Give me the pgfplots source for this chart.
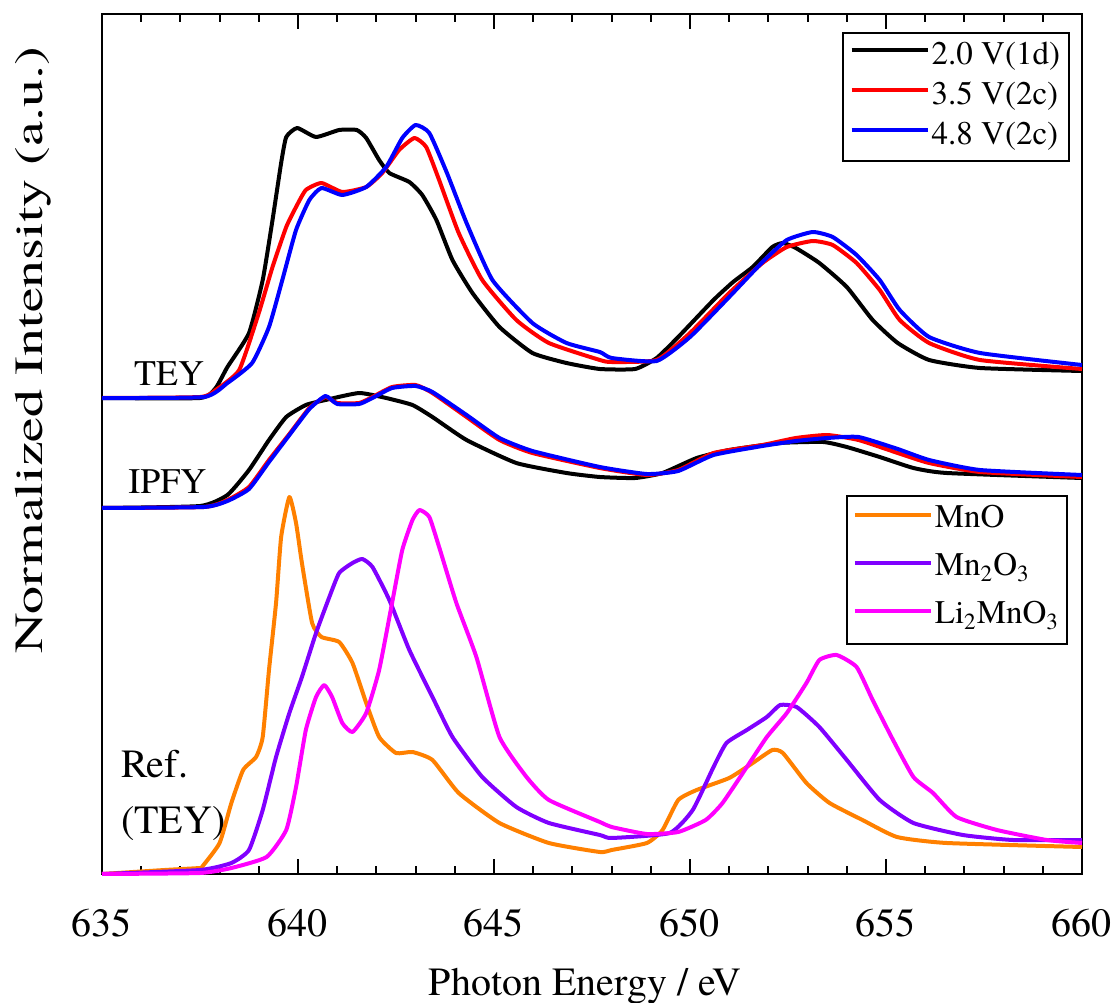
\documentclass[border=0pt]{standalone}
\usepackage{fontspec}
\setmainfont{texgyretermes}[Extension=.otf, UprightFont=*-regular, BoldFont=*-bold, ItalicFont=*-italic, BoldItalicFont=*-bolditalic]
\newfontfamily\ylabfont{texgyretermes}[Extension=.otf, UprightFont=*-regular, FakeStretch=1.4]
\usepackage{pgfplots}
\pgfplotsset{compat=1.18}

\definecolor{mnoorange}{RGB}{255,128,0}
\definecolor{mnviolet}{RGB}{128,0,255}
\definecolor{limagenta}{RGB}{255,0,255}

\newcommand{\bigfont}{\fontsize{20}{24}\selectfont}
\newcommand{\legfont}{\fontsize{16.5}{19}\selectfont}

\pgfplotsset{
  spectra/.style={
    scale only axis, width=490pt, height=430pt,
    at={(0pt,0pt)}, anchor=south west,
    xmin=635, xmax=660, ymin=0, ymax=860,
    clip=false,
  },
  spec/.style={line width=2pt, line join=round, smooth, tension=0.3},
  leg/.style={
    legend cell align=left,
    legend image code/.code={\draw[##1, sharp plot] (0pt,3.5pt) -- (38pt,3.5pt);},
  },
}

\begin{document}
\begin{tikzpicture}
% measured spectra: TEY (upper) and IPFY (middle)
\begin{axis}[spectra, leg,
  axis line style={line width=1pt},
  xtick={635,640,...,660}, minor x tick num=4,
  major tick length=7.5pt, minor tick length=4pt,
  every tick/.style={black, line width=1pt},
  ytick=\empty,
  /pgf/number format/assume math mode=true,
  xticklabel style={font=\bigfont, anchor=base, yshift=-31pt},
  xlabel={Photon Energy / eV},
  xlabel style={font=\bigfont, at={(axis description cs:0.493,-0.1407)}, anchor=base},
  ylabel={Normalized Intensity (a.u.)},
  ylabel style={font=\ylabfont\fontsize{20}{24}\selectfont, at={(axis description cs:-0.0704,0.609)}, anchor=center},
  legend style={at={(rel axis cs:0.9878,0.979)}, anchor=north east,
    draw=black, line width=1pt, font=\legfont, inner sep=3.5pt,
    row sep=3pt,
    nodes={inner sep=1pt, text height=11pt, text depth=4pt}},
]
\addplot[spec, black] coordinates {
(635,476) (637.5,476) (637.9,486) (638.2,507) (638.75,541) (639.1,594)
(639.35,654) (639.57,711) (639.7,737) (639.98,746) (640.46,737) (641.05,744)
(641.5,744) (641.74,736) (642.07,714) (642.33,701) (642.84,692) (643.17,679)
(643.53,654) (643.94,614) (644.45,581) (645.14,547) (645.98,521) (646.85,511)
(647.7,505) (648.6,505) (649.15,516) (649.7,537) (650.6,574) (651.1,592)
(651.6,607) (652.1,627) (652.37,631) (652.7,626) (653.3,611) (654.0,587)
(654.66,554) (655.3,531) (656.1,514) (657.4,506) (660,503)};
\addlegendentry{2.0 V(1d)}
\addplot[spec, red] coordinates {
(635,476) (637.5,477) (637.9,484) (638.5,504) (639.0,561) (639.35,607)
(639.7,647) (639.95,667) (640.2,684) (640.6,691) (641.13,682) (641.74,687)
(642.15,701) (642.58,724) (642.97,736) (643.27,727) (643.6,694) (644.1,641)
(644.7,594) (645.57,554) (646.4,531) (647.7,514) (648.0,512) (649.15,514)
(650.0,541) (651.0,581) (651.85,611) (652.47,627) (653.13,633) (653.64,629)
(654.25,611) (654.84,584) (655.35,554) (656.1,531) (657.4,514) (660,505)};
\addlegendentry{3.5 V(2c)}
\addplot[spec, blue] coordinates {
(635,476) (637.6,477) (638.2,491) (638.83,511) (639.26,547) (639.6,594)
(639.95,644) (640.29,674) (640.6,686) (641.13,679) (641.74,687) (642.25,707)
(642.66,736) (643.0,749) (643.35,741) (643.8,701) (644.3,651) (644.96,594)
(645.98,551) (646.85,531) (647.7,522) (648.0,516) (649.15,513) (650.0,537)
(651.0,577) (651.85,612) (652.47,634) (653.13,642) (653.64,637) (654.25,619)
(654.84,594) (655.35,564) (656.1,537) (657.4,521) (660,509)};
\addlegendentry{4.8 V(2c)}
\addplot[spec, black, forget plot] coordinates {
(635,366) (637.5,368) (638.2,379) (638.75,404) (639.26,434) (639.7,457)
(640.2,469) (640.7,474) (641.56,481) (642.25,476) (642.92,469) (643.43,457)
(644.3,434) (645.57,411) (646.85,401) (647.7,397) (648.6,396) (649.3,401)
(650.17,416) (651.0,424) (652.3,431) (653.4,432) (654.0,427) (654.84,417)
(655.7,406) (656.55,401) (660,396)};
\addplot[spec, red, forget plot] coordinates {
(635,366) (637.6,367) (638.2,374) (638.75,387) (639.26,414) (639.8,441)
(640.29,466) (640.7,477) (641.0,471) (641.56,471) (641.9,477) (642.4,487)
(643.0,489) (643.43,481) (644.3,457) (645.14,434) (645.98,421) (647.7,406)
(648.9,399) (649.7,404) (650.6,421) (651.85,429) (652.7,436) (653.5,439)
(654.3,434) (655.3,421) (656.1,411) (657.4,402) (660,397)};
\addplot[spec, blue, forget plot] coordinates {
(635,366) (637.6,367) (638.2,373) (638.75,385) (639.26,412) (639.8,440)
(640.29,465) (640.7,478) (641.0,470) (641.56,470) (641.9,476) (642.4,486)
(643.0,488) (643.43,482) (644.3,459) (645.14,436) (645.98,423) (647.7,407)
(648.9,400) (649.7,403) (650.6,419) (651.85,428) (652.7,433) (653.5,436)
(654.3,437) (655.3,425) (656.1,414) (657.4,404) (660,399)};
\node[font=\fontsize{18}{21}\selectfont, anchor=base west] at (axis cs:635.64,489) {TEY};
\node[font=\fontsize{18}{21}\selectfont, anchor=base west] at (axis cs:635.49,381) {IPFY};
\node[font=\bigfont, anchor=base west] at (axis cs:635.31,97) {Ref.};
\node[font=\bigfont, anchor=base west] at (axis cs:635.31,41) {(TEY)};
\end{axis}
% reference compounds (TEY)
\begin{axis}[spectra, leg, hide axis,
  legend style={at={(rel axis cs:0.9857,0.4407)}, anchor=north east,
    draw=black, line width=1pt, font=\legfont, inner sep=3pt,
    row sep=4pt,
    nodes={inner sep=1pt, text height=12pt, text depth=6pt}},
]
\addplot[spec, mnoorange] coordinates {
(635,0) (636.6,4) (637.5,6) (637.55,7) (638.0,31) (638.3,71) (638.6,104)
(638.93,117) (639.1,137) (639.26,204) (639.44,271) (639.57,337) (639.78,377)
(639.95,351) (640.1,311) (640.36,251) (640.6,237) (641.05,232) (641.39,211)
(641.74,171) (642.07,137) (642.5,121) (642.92,122) (643.43,114) (644.1,81)
(645.14,51) (646.4,31) (647.7,22) (648.0,24) (648.9,31) (649.3,44)
(649.7,74) (650.17,84) (651.0,96) (651.6,111) (652.1,124) (652.37,121)
(652.97,91) (653.56,71) (654.4,54) (655.28,37) (656.55,31) (660,27)};
\addlegendentry{MnO}
\addplot[spec, mnviolet] coordinates {
(635,0) (637.5,4) (638.3,11) (638.75,24) (639.1,64) (639.44,117) (639.78,161)
(640.1,197) (640.46,241) (640.8,277) (641.05,301) (641.39,311) (641.64,315)
(641.9,307) (642.33,274) (642.84,224) (643.43,177) (643.94,137) (644.7,97)
(645.57,67) (646.4,51) (647.7,39) (648.0,36) (649.48,41) (650.07,64)
(650.6,107) (650.93,131) (651.45,144) (651.96,157) (652.3,169) (652.72,167)
(653.3,147) (654.0,114) (654.84,74) (655.7,51) (656.96,39) (658.24,34) (660,34)};
\addlegendentry{Mn\textsubscript{2}O\textsubscript{3}}
\addplot[spec, limagenta] coordinates {
(635,0) (637.5,1) (638.3,6) (639.2,17) (639.7,44) (639.95,87) (640.2,144)
(640.46,177) (640.67,189) (640.87,177) (641.13,151) (641.39,142) (641.74,161)
(642.07,204) (642.4,271) (642.66,324) (642.92,354) (643.1,364) (643.35,357)
(643.6,327) (644.04,271) (644.55,217) (645.14,137) (645.83,97) (646.4,74)
(647.7,52) (648.0,47) (648.9,40) (649.7,42) (650.4,54) (650.83,71)
(651.45,107) (651.96,137) (652.47,161) (652.97,191) (653.3,214) (653.74,219)
(654.25,207) (654.66,174) (655.18,134) (655.7,97) (656.2,81) (656.8,57)
(657.83,44) (659.1,34) (660,31)};
\addlegendentry{Li\textsubscript{2}MnO\textsubscript{3}}
\end{axis}
\pgfresetboundingbox
\path (-51pt,-64.5pt) rectangle (507pt,437pt);
\end{tikzpicture}
\end{document}
